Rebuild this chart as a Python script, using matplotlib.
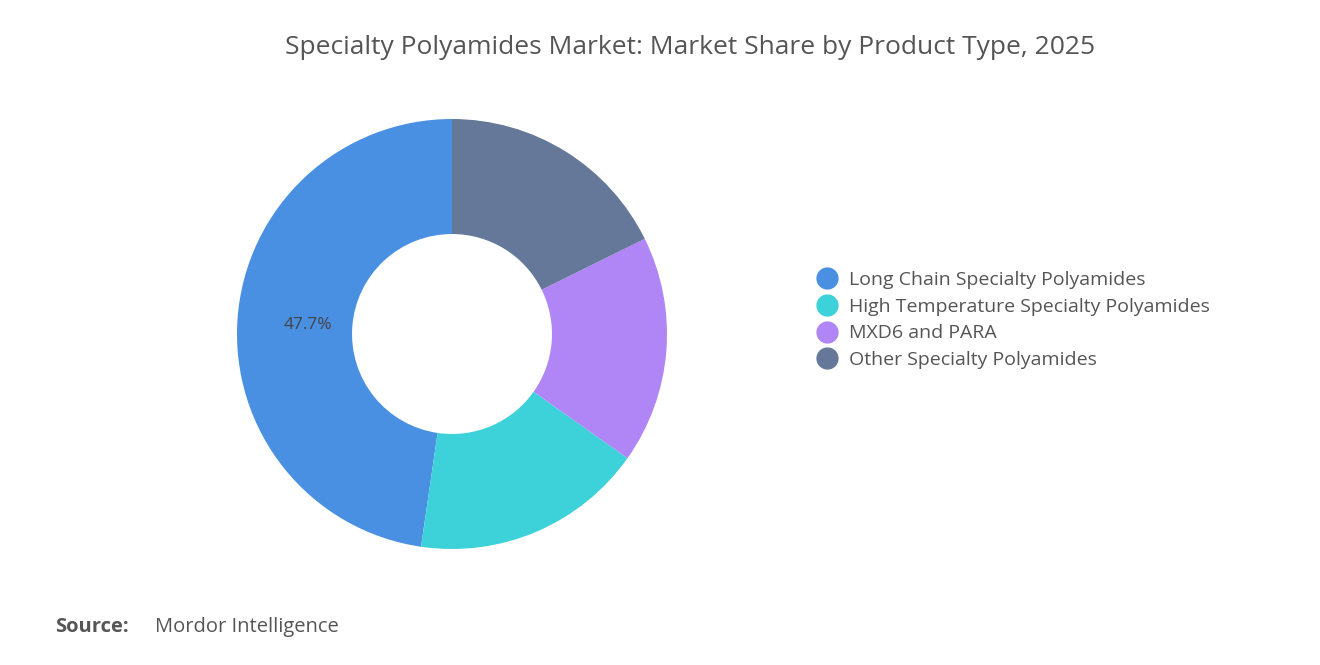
import matplotlib
matplotlib.use("Agg")
import matplotlib.pyplot as plt
from matplotlib.lines import Line2D

categories = ["Long Chain Specialty Polyamides", "High Temperature Specialty Polyamides",
              "MXD6 and PARA", "Other Specialty Polyamides"]
values = [47.7, 17.5, 17.1, 17.7]
colors = ["#4A90E2", "#3DD1DA", "#B085F5", "#657899"]

plt.rcParams['font.family'] = ['Open Sans', 'DejaVu Sans']
fig = plt.figure(figsize=(13.2, 6.65), dpi=100)
fig.patch.set_facecolor("white")

ax = fig.add_axes([237/1320, 116/665, 430/1320, 430/665])
wedges, _ = ax.pie(values, colors=colors, startangle=90, counterclock=True,
                   wedgeprops=dict(width=0.535, edgecolor="white", linewidth=0))
ax.set_aspect("equal")
ax.set_xlim(-1, 1); ax.set_ylim(-1, 1)
ax.text(-0.67, 0.04, f"{values[0]}%", ha="center", va="center", fontsize=12.5, color="#444444")

handles = [Line2D([0], [0], marker="o", linestyle="", markersize=15, markerfacecolor=c,
                  markeredgecolor=c) for c in colors]
fig.legend(handles, categories, loc="center left", bbox_to_anchor=(800/1320, 1-320/665),
           frameon=False, fontsize=14, labelcolor="#555555", handletextpad=0.1,
           labelspacing=0.45, borderaxespad=0)

fig.text(690/1320, 1-48/665, "Specialty Polyamides Market: Market Share by Product Type, 2025",
         ha="center", va="center", fontsize=19, color="#555555")
fig.text(55/1320, 1-627/665, "Source:", ha="left", va="center", fontsize=14.5,
         color="#555555", fontweight="bold")
fig.text(155/1320, 1-627/665, "Mordor Intelligence", ha="left", va="center", fontsize=14.5,
         color="#555555")

fig.savefig("out.png", dpi=100)
